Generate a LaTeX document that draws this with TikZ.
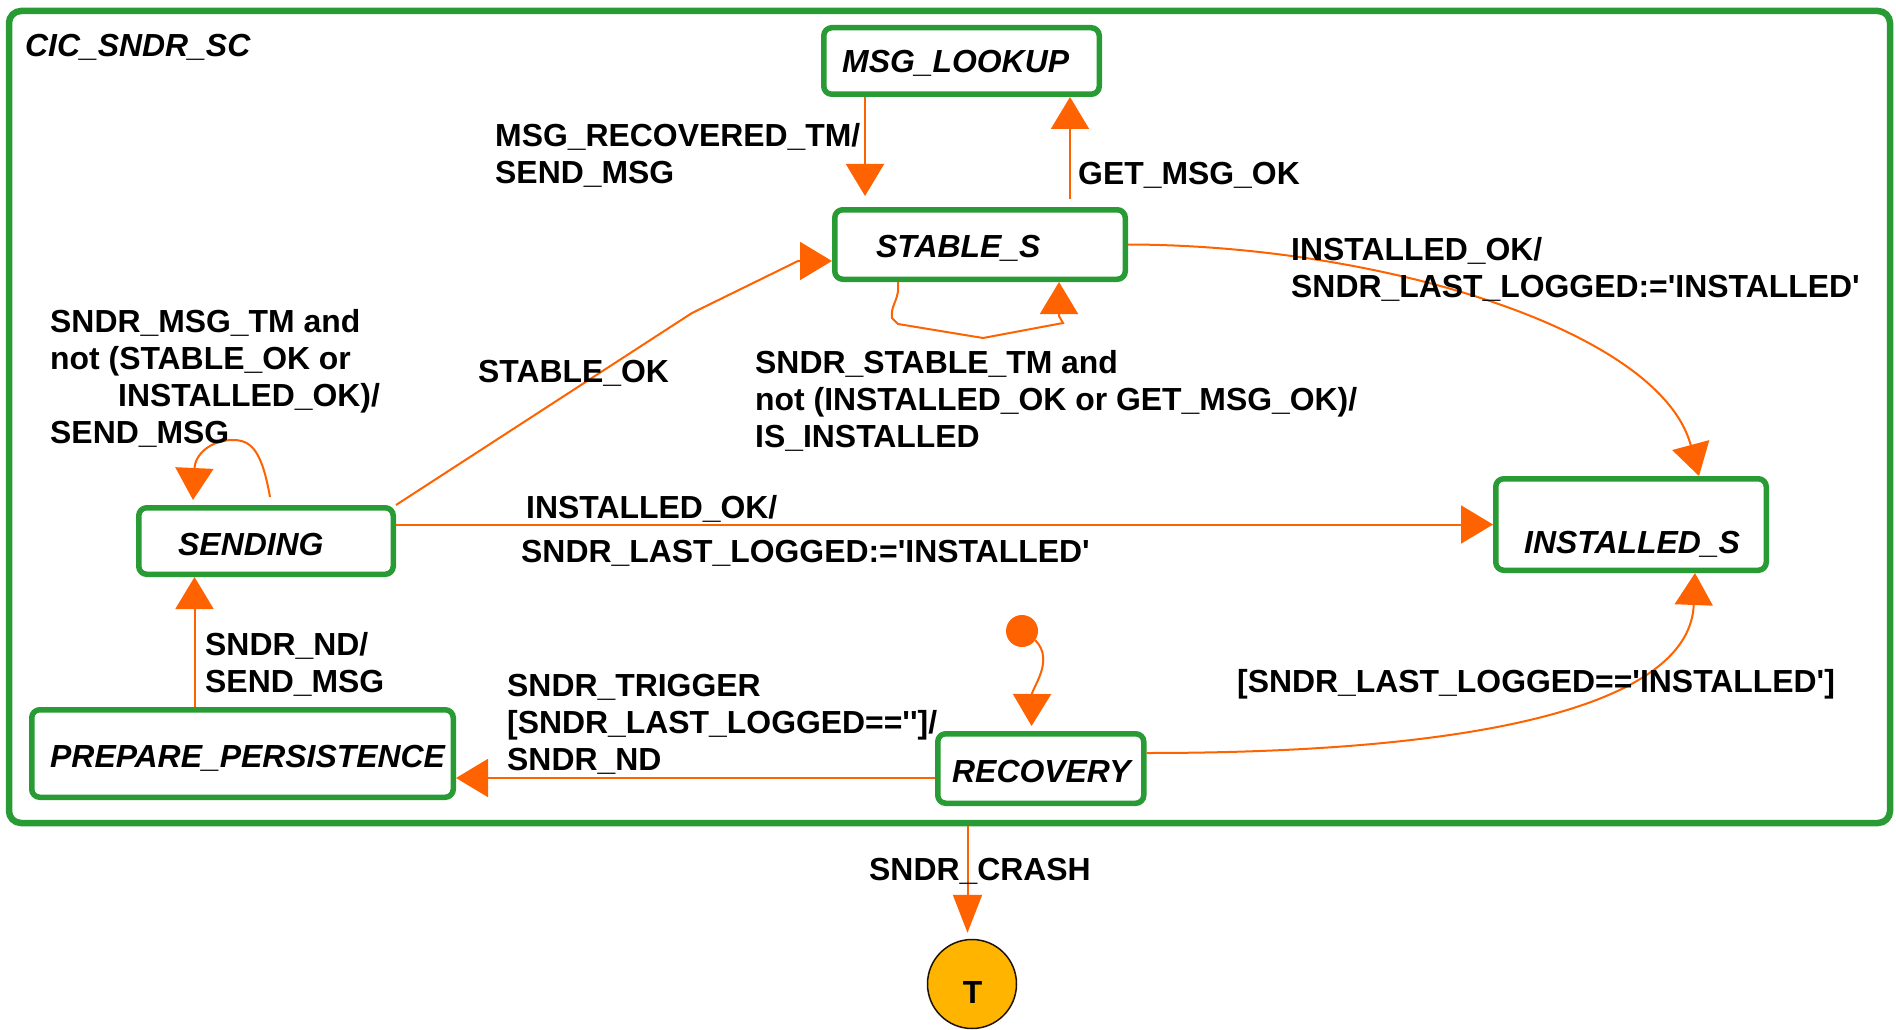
\documentclass[tikz,border=0pt]{standalone}
\usepackage{fontspec}
\setmainfont{Liberation Sans}
\usetikzlibrary{arrows.meta,calc}

\definecolor{stgreen}{RGB}{41,155,52}
\definecolor{tor}{RGB}{255,98,0}
\definecolor{termfill}{RGB}{255,180,0}

\begin{document}
\begin{tikzpicture}[x=1pt,y=-1pt,
  lbl/.style={font=\fontsize{31.9}{37}\selectfont\bfseries, align=left, inner sep=0pt, anchor=base west},
  sname/.style={font=\fontsize{31.9}{37}\selectfont\bfseries\itshape, inner sep=0pt, anchor=base west},
  stbox/.style={draw=stgreen, line width=5.5pt, rounded corners=8pt, fill=white, inner sep=0pt},
  trans/.style={draw=tor, line width=2pt, -{Triangle[width=38pt,length=32pt]}},
]
\useasboundingbox (0,0) rectangle (1896,1030);

% composite state
\node[draw=stgreen, line width=6.5pt, rounded corners=12pt, inner sep=0pt,
      minimum width=1881pt, minimum height=812pt] (frame) at (949.5,417) {};
\node[sname] (frame-t) at (25,57) {CIC\_SNDR\_SC};

% states
\node[stbox, minimum width=275.5pt, minimum height=66.5pt] (lookup) at (961.5,61) {};
\node[stbox, minimum width=290.5pt, minimum height=69.5pt] (stable) at (980,244.5) {};
\node[stbox, minimum width=254.5pt, minimum height=66.5pt] (sending) at (266,541) {};
\node[stbox, minimum width=270.5pt, minimum height=91.5pt] (installed) at (1631,524.5) {};
\node[stbox, minimum width=421.5pt, minimum height=87.5pt] (prep) at (242.5,753.5) {};
\node[stbox, minimum width=206pt, minimum height=69.5pt] (recovery) at (1040.75,768.5) {};

\node[sname] (lookup-t) at (842,73) {MSG\_LOOKUP};
\node[sname] (stable-t) at (876,257) {STABLE\_S};
\node[sname] (sending-t) at (178,555) {SENDING};
\node[sname] (installed-t) at (1524,553) {INSTALLED\_S};
\node[sname] (prep-t) at (50,767) {PREPARE\_PERSISTENCE};
\node[sname] (recovery-t) at (952,782) {RECOVERY};

% initial pseudo-state and terminal state
\node[circle, fill=tor, minimum size=32pt, inner sep=0pt] (init) at (1022,631) {};
\node[circle, draw=black!85!brown, line width=1.5pt, fill=termfill,
      minimum size=89pt, inner sep=0pt] (term) at (972,984) {};
\node[font=\fontsize{31.9}{37}\selectfont\bfseries, inner sep=0pt, anchor=base] (term-t) at (972.5,1003) {T};

% transitions
\draw[trans, shorten >=11pt] ([xshift=-96.5pt]lookup.south) -- ([xshift=-115pt]stable.north);
\draw[trans, shorten <=8pt] ([xshift=90pt]stable.north) -- ([xshift=108.5pt]lookup.south);

\draw[trans] ([xshift=-82pt]stable.south) .. controls (900,300) and (890,305) .. (892,318)
  -- (898,324) -- (983,338) -- (1063,323) -- (1059,316) -- ([xshift=79pt]stable.south);

\draw[trans] (sending.north east) -- (692,313) -- (798,261) -- ([yshift=-16.5pt]stable.west);

\draw[trans] (stable.east) .. controls (1380,245) and (1660,330) .. ([xshift=68pt]installed.north);

\draw[trans] (installed.west -| sending.east) -- (installed.west);

\draw[trans] ([xshift=4pt,yshift=8pt]sending.north) .. controls (262,452) and (252,440) .. (233,440)
  .. controls (210,440) and (195,455) .. ([xshift=-73pt,yshift=5pt]sending.north);

\coordinate (pp) at ([xshift=-48pt]prep.north);
\draw[trans] (pp) -- (pp |- sending.south);

\coordinate (rv) at ([yshift=-9.5pt]recovery.west);
\draw[trans] (rv) -- (rv -| prep.east);

\draw[trans] ([yshift=15.5pt]recovery.east) .. controls (1500,753) and (1690,700) .. ([xshift=64pt]installed.south);

\draw[trans, shorten >=5pt] (init.-35) .. controls (1055,660) and (1032,688) .. ([xshift=-9.25pt]recovery.north);

\coordinate (fc) at ([xshift=18pt]frame.south);
\draw[draw=tor, line width=2pt, -{Triangle[width=29pt,length=38pt]}, shorten >=6pt] (fc) -- (fc |- term.north);

% transition labels (anchored at the baseline of their last line)
\node[lbl] (l-recov) at (495,183) {MSG\_RECOVERED\_TM/\\SEND\_MSG};
\node[lbl] (l-getmsg) at (1078,185) {GET\_MSG\_OK};
\node[lbl] (l-inst1) at (1291,297) {INSTALLED\_OK/\\SNDR\_LAST\_LOGGED:=\textquotesingle INSTALLED\textquotesingle};
\node[lbl] (l-msgtm) at (50,443) {SNDR\_MSG\_TM and\\not (STABLE\_OK or\\\hspace*{68pt}INSTALLED\_OK)/\\SEND\_MSG};
\node[lbl] (l-stableok) at (478,382) {STABLE\_OK};
\node[lbl] (l-stabletm) at (755,447) {SNDR\_STABLE\_TM and\\not (INSTALLED\_OK or GET\_MSG\_OK)/\\IS\_INSTALLED};
\node[lbl] (l-inst2a) at (526,518) {INSTALLED\_OK/};
\node[lbl] (l-inst2b) at (521,562) {SNDR\_LAST\_LOGGED:=\textquotesingle INSTALLED\textquotesingle};
\node[lbl] (l-nd) at (205,692) {SNDR\_ND/\\SEND\_MSG};
\node[lbl] (l-trig) at (507,770) {SNDR\_TRIGGER\\{[}SNDR\_LAST\_LOGGED==\textquotesingle\textquotesingle{]}/\\SNDR\_ND};
\node[lbl] (l-lastinst) at (1237,692) {{[}SNDR\_LAST\_LOGGED==\textquotesingle INSTALLED\textquotesingle{]}};
\node[lbl] (l-crash) at (869,880) {SNDR\_CRASH};
\end{tikzpicture}
\end{document}
